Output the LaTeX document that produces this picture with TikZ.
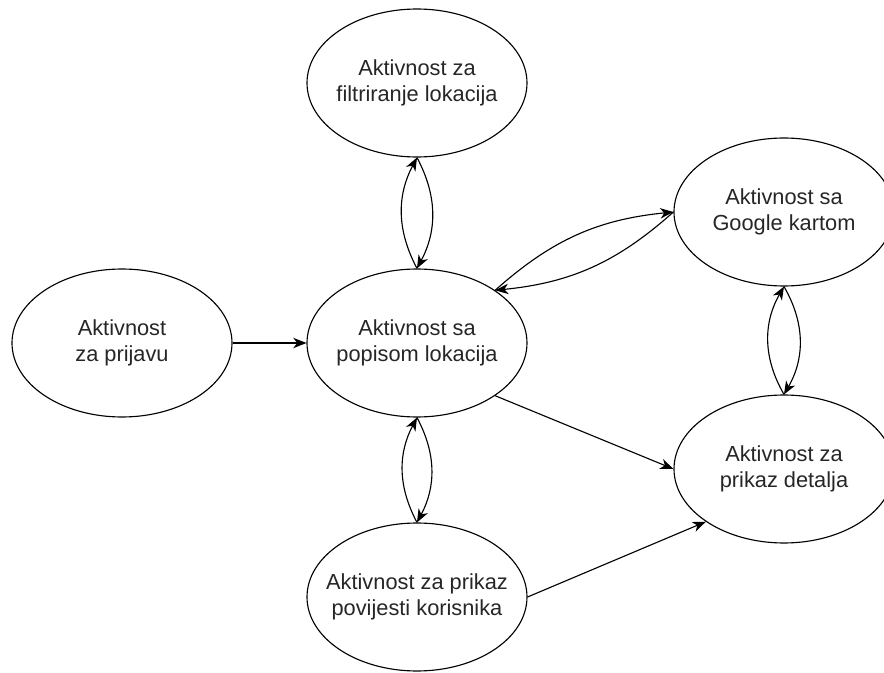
\documentclass[tikz,border=0pt]{standalone}
\usepackage{fontspec}
\setmainfont{Liberation Sans}
\usepackage{tikz}
\usetikzlibrary{shapes, arrows.meta}

\tikzset{
	activity/.style = {ellipse, draw, line width = 0.8pt, minimum width = 5.5cm, minimum height = 3.7cm, inner xsep = -0.6cm, inner ysep = 0pt, align = center, text = black!85, font = \fontsize{15.5}{18.5}\selectfont},
	line/.style = {draw, line width = 0.8pt, -{Stealth[length = 3.3mm, width = 2.6mm, inset = 1mm]}}
}

\begin{document}
\begin{tikzpicture}[node distance = 1cm, auto]
			\useasboundingbox (-10.425, -8.25) rectangle (11.675, 8.575);
			\node [activity] (popis) {Aktivnost sa\\popisom lokacija};
			\node [activity, left of = popis, node distance = 7.375cm] (prijava) {Aktivnost\\za prijavu};
			\node [activity, above of = popis, node distance = 6.5cm] (filter) {Aktivnost za\\filtriranje lokacija};
			\node [activity, below of = popis, node distance = 6.35cm] (povijest) {Aktivnost za prikaz\\povijesti korisnika};
			\node [activity, right of = popis, node distance = 9.175cm, yshift = -3.15cm] (detalji) {Aktivnost za\\prikaz detalja};
			\node [activity, above of = detalji, node distance = 6.425cm] (google) {Aktivnost sa\\Google kartom};
			
			
			\path [line] (prijava) -- (popis);
			\path [line] (popis.north) to [bend left = 28] (filter.south);
			\path [line] (filter.south) to [bend left = 28] (popis.north);
			\path [line] (popis.south) to [bend left = 28] (povijest.north);
			\path [line] (povijest.north) to [bend left = 28] (popis.south);
			\path [line] (popis.34) to [bend left = 18] (google.west);
			\path [line] (google.west) to [bend left = 18] (popis.34);
			\path [line] (google.south) to [bend left = 30] (detalji.north);
			\path [line] (detalji.north) to [bend left = 30] (google.south);
			\path [line] (popis.-34) -- (detalji.west);
			\path [line] (povijest.east) -- (detalji.214);
		\end{tikzpicture}
\end{document}
